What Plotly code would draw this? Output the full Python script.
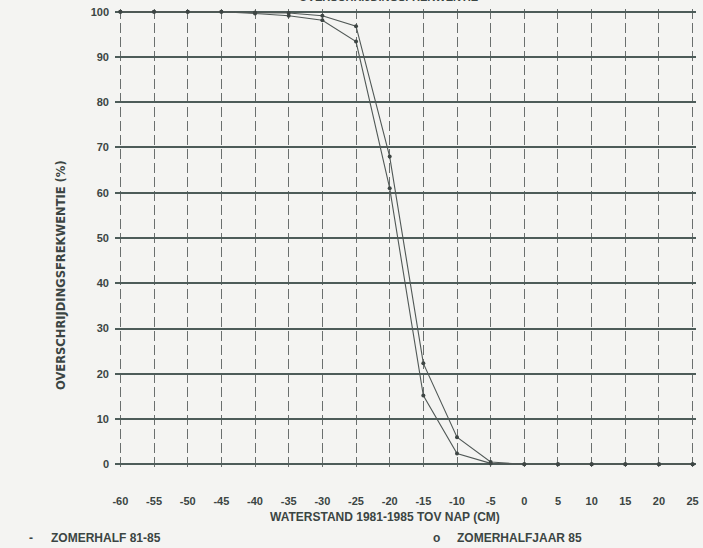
import plotly.graph_objects as go

waterstand = [-60, -55, -50, -45, -40, -35, -30, -25, -20, -15, -10, -5, 0, 5, 10, 15, 20, 25]
zomerhalf_81_85 = [100, 100, 100, 100, 99.8, 99.7, 99.1, 96.8, 68, 22.3, 6.0, 0.5, 0, 0, 0, 0, 0, 0]
zomerhalfjaar_85 = [100, 100, 100, 100, 99.6, 99.1, 98.1, 93.4, 61, 15.2, 2.4, 0.2, 0, 0, 0, 0, 0, 0]
x_ticks = [-60, -55, -50, -45, -40, -35, -30, -25, -20, -15, -10, -5, 0, 5, 10, 15, 20, 25]
y_ticks = [0, 10, 20, 30, 40, 50, 60, 70, 80, 90, 100]

NARROW = "Liberation Sans Narrow, Liberation Sans, Arial"
WIDE = "Liberation Sans, Arial"
EXTRA_WIDE = "DejaVu Sans, Liberation Sans, Arial"
INK = "#3b4543"

fig = go.Figure()
fig.add_trace(go.Scatter(
    x=waterstand, y=zomerhalf_81_85, mode="lines+markers", name="ZOMERHALF 81-85",
    line=dict(color="#505856", width=1.1),
    marker=dict(symbol="circle", size=4, color="#3d4543"),
    showlegend=False))
fig.add_trace(go.Scatter(
    x=waterstand, y=zomerhalfjaar_85, mode="lines+markers", name="ZOMERHALFJAAR 85",
    line=dict(color="#505856", width=1.1),
    marker=dict(symbol="circle", size=4, color="#3d4543"),
    showlegend=False))

fig.update_layout(
    width=703, height=548,
    paper_bgcolor="#f4f4f2", plot_bgcolor="#f4f4f2",
    margin=dict(l=114.6, r=6.6, t=9.3, b=81.3, autoexpand=False),
    font=dict(family=NARROW, color=INK, size=11),
    xaxis=dict(
        range=[-60.8, 25.5], tickvals=x_ticks,
        ticktext=[f"<b>{v}</b>" for v in x_ticks],
        showgrid=True, gridcolor="#6a6f6e", gridwidth=1.2, griddash="10px,4px",
        zeroline=False, showline=False, ticks="", ticklabelstandoff=26,
        tickfont=dict(size=11, family=WIDE, color=INK)),
    yaxis=dict(
        range=[-0.6, 100.6], tickvals=y_ticks,
        ticktext=[f"<b>{v}</b>" for v in y_ticks],
        showgrid=True, gridcolor="#4d5c59", gridwidth=2.4,
        zeroline=False, showline=False, ticks="", ticklabelstandoff=5,
        tickfont=dict(size=11, family=WIDE, color=INK)),
)

annotations = [
    # title partially cut off at the top edge of the scan
    dict(text="<b>OVERSCHRIJDINGSFREKWENTIE</b>", xref="paper", yref="paper",
         x=0.47, y=1.0, xanchor="center", yanchor="bottom", yshift=4, showarrow=False,
         font=dict(size=11, family=NARROW, color=INK)),
    dict(text="<b>OVERSCHRIJDINGSFREKWENTIE (%)</b>", textangle=-90,
         xref="paper", yref="paper", x=-0.094, y=0.42, xanchor="center", yanchor="middle",
         showarrow=False, font=dict(size=11.5, family=EXTRA_WIDE, color=INK)),
    dict(text="<b>WATERSTAND 1981-1985 TOV NAP (CM)</b>",
         xref="paper", yref="paper", x=0.465, y=-0.11, xanchor="center", yanchor="middle",
         showarrow=False, font=dict(size=12, family=NARROW, color=INK)),
    dict(text="<b>-</b>", xref="paper", yref="paper", x=-0.145, y=-0.154,
         xanchor="center", yanchor="middle", showarrow=False,
         font=dict(size=12, family=NARROW, color=INK)),
    dict(text="<b>ZOMERHALF 81-85</b>", xref="paper", yref="paper", x=-0.114, y=-0.154,
         xanchor="left", yanchor="middle", showarrow=False,
         font=dict(size=12, family=NARROW, color=INK)),
    dict(text="<b>o</b>", xref="paper", yref="paper", x=0.554, y=-0.154,
         xanchor="center", yanchor="middle", showarrow=False,
         font=dict(size=12, family=NARROW, color=INK)),
    dict(text="<b>ZOMERHALFJAAR 85</b>", xref="paper", yref="paper", x=0.585, y=-0.154,
         xanchor="left", yanchor="middle", showarrow=False,
         font=dict(size=12, family=NARROW, color=INK)),
]
fig.update_layout(annotations=annotations)

fig.write_html("out.html", config={"displayModeBar": False},
               post_script="document.body.style.margin='0';")
